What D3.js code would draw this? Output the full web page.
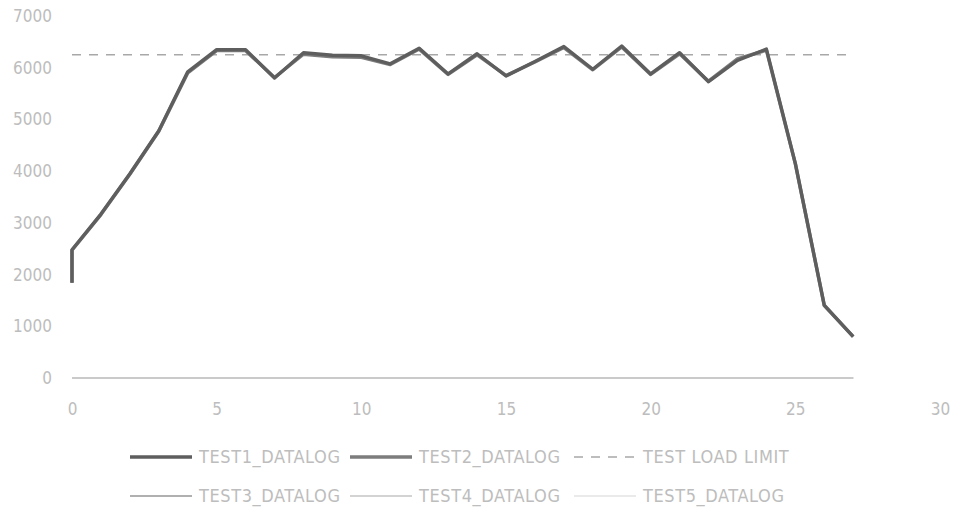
<!DOCTYPE html>
<html><head><meta charset="utf-8">
<script src="https://cdn.jsdelivr.net/npm/d3@7/dist/d3.min.js"></script>
<style>
html,body{margin:0;padding:0;background:#fff;}
text{font-family:"Liberation Sans Narrow","DejaVu Sans Condensed",sans-serif;}
</style></head>
<body>
<svg id="chart" width="953" height="510"></svg>
<script>
// ---- data ----
const xTicks = [0, 5, 10, 15, 20, 25, 30];
const yTicks = [0, 1000, 2000, 3000, 4000, 5000, 6000, 7000];
const times = [0, 0, 1, 2, 3, 4, 5, 6, 7, 8, 9, 10, 11, 12, 13, 14, 15, 16, 17, 18, 19, 20, 21, 22, 23, 24, 25, 26, 27];
const test1 = [1840, 2480, 3170, 3950, 4780, 5920, 6350, 6350, 5800, 6290, 6240, 6230, 6075, 6375, 5880, 6270, 5840, 6120, 6410, 5970, 6420, 5880, 6290, 5730, 6140, 6360, 4150, 1410, 800];
const test2 = [1840, 2470, 3160, 3940, 4770, 5900, 6330, 6330, 5810, 6260, 6210, 6200, 6060, 6360, 5870, 6250, 5850, 6110, 6390, 5960, 6400, 5870, 6270, 5740, 6170, 6340, 4140, 1400, 800];
const test3 = [0, 0, 0, 0, 0, 0, 0, 0, 0, 0, 0, 0, 0, 0, 0, 0, 0, 0, 0, 0, 0, 0, 0, 0, 0, 0, 0, 0, 0];
const test4 = [0, 0, 0, 0, 0, 0, 0, 0, 0, 0, 0, 0, 0, 0, 0, 0, 0, 0, 0, 0, 0, 0, 0, 0, 0, 0, 0, 0, 0];
const test5 = [0, 0, 0, 0, 0, 0, 0, 0, 0, 0, 0, 0, 0, 0, 0, 0, 0, 0, 0, 0, 0, 0, 0, 0, 0, 0, 0, 0, 0];
const loadLimitTimes = [0, 27];
const loadLimit = [6250, 6250];
const seriesNames = ["TEST1_DATALOG", "TEST2_DATALOG", "TEST LOAD LIMIT", "TEST3_DATALOG", "TEST4_DATALOG", "TEST5_DATALOG"];

// ---- drawing ----
const svg = d3.select("#chart");
const x = d3.scaleLinear().domain([0, 30]).range([72, 940]);
const y = d3.scaleLinear().domain([0, 7000]).range([378, 16]);

const labelColor = "#bdbdbd";

const yAxis = svg.append("g").attr("transform", "translate(60,0)")
  .call(d3.axisLeft(y).tickValues(yTicks).tickFormat(d3.format("d")).tickSize(0).tickPadding(8));
yAxis.select(".domain").remove();
yAxis.selectAll("text").attr("fill", labelColor).style("font-size", "17px");

const xAxis = svg.append("g").attr("transform", "translate(0,399)")
  .call(d3.axisBottom(x).tickValues(xTicks).tickFormat(d3.format("d")).tickSize(0).tickPadding(4));
xAxis.select(".domain").remove();
xAxis.selectAll("text").attr("fill", labelColor).style("font-size", "17px");

const styles = {
  "TEST1_DATALOG": {color: "#5e5e5e", width: 3.4, dash: null},
  "TEST2_DATALOG": {color: "#7d7d7d", width: 3.4, dash: null},
  "TEST LOAD LIMIT": {color: "#a8a8a8", width: 1.6, dash: "9,8"},
  "TEST3_DATALOG": {color: "#b0b0b0", width: 1.8, dash: null},
  "TEST4_DATALOG": {color: "#c4c4c4", width: 1.6, dash: null},
  "TEST5_DATALOG": {color: "#d6d6d6", width: 1.2, dash: null}
};

const series = [
  {name: "TEST3_DATALOG", t: times, v: test3},
  {name: "TEST4_DATALOG", t: times, v: test4},
  {name: "TEST5_DATALOG", t: times, v: test5},
  {name: "TEST LOAD LIMIT", t: loadLimitTimes, v: loadLimit},
  {name: "TEST2_DATALOG", t: times, v: test2},
  {name: "TEST1_DATALOG", t: times, v: test1}
];

const line = d3.line().x(d => x(d[0])).y(d => y(d[1]));
svg.append("g").selectAll("path").data(series).join("path")
  .attr("d", s => line(s.t.map((t, i) => [t, s.v[i]])))
  .attr("fill", "none")
  .attr("stroke", s => styles[s.name].color)
  .attr("stroke-width", s => styles[s.name].width)
  .attr("stroke-dasharray", s => styles[s.name].dash)
  .attr("stroke-linejoin", "round");

// legend
const legendCols = [130, 350, 574];
const legendRows = [457, 496];
const leg = svg.append("g").selectAll("g").data(seriesNames).join("g")
  .attr("transform", (d, i) => `translate(${legendCols[i % 3]},${legendRows[Math.floor(i / 3)]})`);
leg.append("line").attr("x1", 0).attr("x2", 62).attr("y1", 0).attr("y2", 0)
  .attr("stroke", d => styles[d].color)
  .attr("stroke-width", d => styles[d].width)
  .attr("stroke-dasharray", d => styles[d].dash ? "9,8" : null);
leg.append("text").attr("x", 69).attr("y", 0).attr("dy", "0.35em")
  .attr("fill", labelColor).style("font-size", "18px").style("letter-spacing", "0.6px").text(d => d);
</script>
</body></html>
